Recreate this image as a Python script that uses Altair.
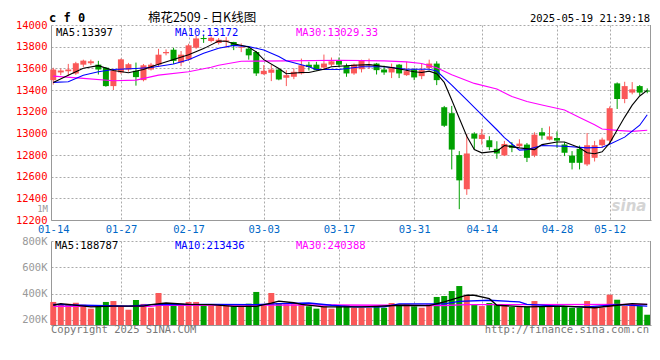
import altair as alt
import pandas as pd

# ---------------- data ----------------
DATES = ["01-14","01-15","01-16","01-17","01-20","01-21","01-22","01-23","01-24","01-27",
         "02-05","02-06","02-07","02-10","02-11","02-12","02-13","02-14","02-17","02-18",
         "02-19","02-20","02-21","02-24","02-25","02-26","02-27","02-28",
         "03-03","03-04","03-05","03-06","03-07","03-10","03-11","03-12","03-13","03-14",
         "03-17","03-18","03-19","03-20","03-21","03-24","03-25","03-26","03-27","03-28","03-31",
         "04-01","04-02","04-03","04-07","04-08","04-09","04-10","04-11","04-14","04-15",
         "04-16","04-17","04-18","04-21","04-22","04-23","04-24","04-25","04-28","04-29","04-30",
         "05-06","05-07","05-08","05-09","05-12","05-13","05-14","05-15","05-16","05-19"]

OPEN = [13491,13562,13574,13552,13634,13647,13634,13606,13436,13562,
        13589,13577,13491,13589,13634,13739,13772,13653,13681,13790,
        13880,13852,13834,13846,13843,13790,13782,13751,13546,13559,
        13589,13513,13522,13553,13634,13634,13607,13634,13674,13623,
        13553,13592,13628,13644,13589,13562,13634,13537,13589,13528,
        13604,13644,13241,13186,12799,12484,12997,12948,12936,12857,
        12796,12890,12881,12896,12795,13010,12942,12957,12896,12795,
        12857,12713,12774,12890,12933,13461,13317,13376,13436,13394]
HIGH = [13605,13598,13641,13660,13680,13680,13669,13610,13590,13690,
        13650,13653,13640,13650,13780,13775,13790,13760,13827,13900,
        13903,13895,13880,13888,13845,13830,13797,13760,13630,13630,
        13595,13582,13600,13690,13660,13660,13727,13700,13700,13644,
        13644,13680,13690,13650,13625,13644,13640,13660,13600,13640,
        13680,13665,13253,13253,12836,12994,13010,13040,12973,12927,
        12930,12920,12945,12911,13010,13050,13064,13018,12918,12836,
        12887,13003,12930,12960,13248,13470,13476,13473,13446,13415]
LOW = [13450,13537,13531,13540,13613,13630,13543,13430,13400,13550,
       13570,13440,13480,13580,13615,13720,13640,13620,13670,13780,
       13835,13840,13820,13790,13768,13750,13680,13530,13540,13482,
       13490,13436,13500,13543,13580,13580,13590,13620,13610,13522,
       13540,13562,13595,13543,13540,13510,13510,13530,13491,13500,
       13595,13445,13058,12667,12300,12432,12850,12896,12845,12765,
       12790,12826,12870,12735,12780,12942,12935,12866,12790,12667,
       12667,12698,12740,12865,12896,13225,13278,13360,13350,13370]
CLOSE = [13589,13580,13589,13647,13671,13665,13589,13436,13580,13683,
         13638,13519,13628,13634,13726,13751,13669,13726,13812,13876,
         13870,13882,13864,13858,13806,13797,13720,13553,13577,13589,
         13497,13537,13568,13628,13613,13583,13644,13665,13634,13553,
         13634,13674,13634,13583,13562,13613,13553,13574,13516,13583,
         13644,13491,13070,12850,12566,12814,12951,12988,12872,12814,
         12902,12866,12905,12774,12988,12979,12972,12933,12820,12728,
         12728,12890,12890,12942,13232,13317,13436,13406,13376,13385]
VOLUME = [337000,316000,324000,331000,316000,286000,304000,337000,344000,306000,
          278000,352000,322000,293000,405000,319000,329000,324000,337000,337000,
          309000,309000,309000,309000,304000,299000,324000,413000,312000,405000,
          329000,319000,319000,316000,304000,286000,304000,286000,304000,312000,
          293000,293000,293000,309000,293000,329000,312000,319000,304000,293000,
          319000,375000,382000,420000,458000,388000,319000,306000,329000,319000,
          312000,299000,299000,304000,344000,306000,304000,304000,304000,293000,
          293000,344000,304000,293000,392000,354000,306000,312000,306000,240000]

# moving-average lines (day index, value)
MA5_IDX = [0,2,4,6,8,10,12,13,14,16,18,20,22,23,24,26,27,28,30,31,33,34,36,37,40,42,45,48,49,50,
           51,52,53,54,55,56,57,59,60,62,64,65,67,68,70,71,72,73,74,75,76,77,78,79]
MA5_VAL = [13470,13537,13600,13625,13580,13559,13589,13614,13638,13681,13726,13782,13852,13850,13827,
           13797,13751,13680,13598,13550,13562,13562,13592,13614,13628,13634,13607,13568,13562,13574,
           13550,13470,13308,13140,12973,12850,12820,12836,12887,12866,12850,12896,12920,12920,12866,
           12820,12811,12829,12910,13030,13150,13260,13345,13397]
MA10_IDX = [0,2,4,6,8,11,13,16,18,20,22,24,26,28,30,31,34,35,38,41,44,47,50,51,53,55,57,59,60,62,
            63,65,68,71,73,74,76,78,79]
MA10_VAL = [13470,13476,13537,13568,13589,13598,13607,13640,13680,13740,13785,13812,13800,13770,13710,
            13670,13614,13589,13589,13614,13614,13592,13592,13575,13445,13308,13171,13033,12960,12845,
            12850,12887,12881,12866,12872,12900,12965,13075,13172]
MA30_IDX = [0,4,8,11,14,18,21,22,25,31,38,44,47,49,51,53,56,59,61,63,65,68,70,72,73,75,77,79]
MA30_VAL = [13528,13507,13486,13491,13537,13568,13610,13628,13665,13669,13674,13669,13660,13644,13605,
            13540,13461,13410,13340,13293,13262,13216,13147,13079,13040,13027,13018,13029]

VMA5_IDX = [0,1,5,8,12,13,15,18,21,24,27,29,30,32,33,36,41,43,46,50,52,55,56,58,59,63,68,72,75,77,79]
VMA5_VAL = [312000,324000,299000,306000,306000,316000,329000,319000,316000,304000,304000,329000,344000,
            331000,319000,299000,299000,304000,312000,309000,337000,388000,388000,362000,312000,299000,
            306000,293000,312000,324000,319000]
VMA10_IDX = [0,4,10,13,21,27,30,34,37,40,44,46,52,54,58,62,63,68,71,75,79]
VMA10_VAL = [319000,312000,306000,316000,319000,316000,324000,329000,312000,299000,299000,322000,322000,
             342000,350000,337000,319000,304000,299000,316000,306000]
VMA30_IDX = [0,13,14,37,52,55,79]
VMA30_VAL = [304000,304000,312000,314000,310000,316000,319000]

LABEL_IDX = [0, 9, 18, 28, 38, 48, 57, 67, 74]
PRICE_TICKS = list(range(12200, 14001, 200))
VOL_TICKS = [200000, 400000, 600000, 800000]

TITLE_CODE = "c f 0"
TITLE = "棉花2509 - 日K线图"
TIMESTAMP = "2025-05-19 21:39:18"
PRICE_MA_TEXT = ["MA5:13397", "MA10:13172", "MA30:13029.33"]
VOL_MA_TEXT = ["MA5:188787", "MA10:213436", "MA30:240388"]
UNIT_TEXT = "1M"
COPYRIGHT = "Copyright 2025 SINA.COM"
URL = "http://finance.sina.com.cn"
WATERMARK = "sina"

# ---------------- styling ----------------
MONO = "DejaVu Sans Mono"
RED = "#fa5858"
GREEN = "#00a000"
GRID = "#aaaaaa"
BORDER = "#999999"
W, H1, H2 = 600, 195, 84

df = pd.DataFrame({"i": range(len(DATES)), "date": DATES, "open": OPEN, "high": HIGH,
                   "low": LOW, "close": CLOSE, "vol": VOLUME})

def ma_frame(idx, val):
    return pd.DataFrame({"i": idx, "date": [DATES[k] for k in idx], "v": val})

label_expr = ("[" + ",".join("'%s'" % DATES[k] for k in LABEL_IDX) + "][indexof(["
              + ",".join(str(k) for k in LABEL_IDX) + "], datum.value)]")
grid_op = {"condition": {"test": "datum.value == 0", "value": 0}, "value": 1}
xscale = alt.Scale(domain=[-0.3, 79.5], nice=False, zero=False, padding=0)

x_price = alt.X("i:Q", scale=xscale, axis=alt.Axis(
    values=LABEL_IDX, labelExpr=label_expr, labelColor="#0068c8", labelFont=MONO,
    labelFontSize=10.5, labelFlush=False, labelOverlap=False, ticks=False, labelPadding=4,
    domainColor=BORDER, grid=True, gridColor=GRID, gridDash=[2, 2], gridOpacity=grid_op,
    title=None))
x_vol = alt.X("i:Q", scale=xscale, axis=alt.Axis(
    values=LABEL_IDX, labels=False, ticks=False, domainColor=BORDER, grid=True,
    gridColor=GRID, gridDash=[2, 2], gridOpacity=grid_op, title=None))

pscale = alt.Scale(domain=[12200, 14000], zero=False, nice=False, padding=0)
paxis = alt.Axis(values=PRICE_TICKS, format="d", labelColor="#ff0000", labelFont=MONO,
                 labelFontSize=10.5, ticks=False, labelPadding=4, domainColor=BORDER,
                 gridColor=GRID, gridDash=[2, 2], title=None)
def py(field):
    return alt.Y(field, scale=pscale, axis=paxis)

vscale = alt.Scale(domain=[162000, 800000], zero=False, nice=False, clamp=True, padding=0)
vaxis = alt.Axis(values=VOL_TICKS, labelExpr="datum.value/1000 + 'K'", labelColor="#999999",
                 labelFont=MONO, labelFontSize=10.5, ticks=False, labelPadding=4,
                 domainColor=BORDER, gridColor=GRID, gridDash=[2, 2], title=None)
def vy(field):
    return alt.Y(field, scale=vscale, axis=vaxis)

updown = alt.condition("datum.close >= datum.open", alt.value(RED), alt.value(GREEN))

def txt(text, x, y, color="#000000", size=10.5, align="left", font=MONO,
        weight="normal", style="normal"):
    return alt.Chart(alt.Data(values=[{}])).mark_text(
        text=text, align=align, baseline="alphabetic", font=font, fontSize=size,
        color=color, fontWeight=weight, fontStyle=style
    ).encode(x=alt.value(x), y=alt.value(y))

def right_border(h):
    return alt.Chart(alt.Data(values=[{}])).mark_rule(color=BORDER, strokeWidth=1).encode(
        x=alt.value(W - 0.5), y=alt.value(0), y2=alt.value(h))

base = alt.Chart(df)
wick = base.mark_rule(strokeWidth=1).encode(x=x_price, y=py("low:Q"), y2="high:Q", color=updown)
body = base.mark_bar(size=6).encode(x=x_price, y=py("open:Q"), y2="close:Q", color=updown)

def pline(idx, val, color):
    return alt.Chart(ma_frame(idx, val)).mark_line(color=color, strokeWidth=1.1).encode(
        x=x_price, y=py("v:Q"))

price = alt.layer(
    wick, body,
    pline(MA30_IDX, MA30_VAL, "#ff00ff"),
    pline(MA10_IDX, MA10_VAL, "#0000ff"),
    pline(MA5_IDX, MA5_VAL, "#000000"),
    txt(TITLE_CODE, -2, -3, size=12, weight="bold"),
    txt(TITLE, 151, -3, size=12.5, align="center", font="Noto Sans CJK SC"),
    txt(TIMESTAMP, 599, -3, align="right"),
    txt(PRICE_MA_TEXT[0], 5, 10.5),
    txt(PRICE_MA_TEXT[1], 124, 10.5, color="#0000ff"),
    txt(PRICE_MA_TEXT[2], 245, 10.5, color="#ff00ff"),
    txt(UNIT_TEXT, -3, 187, color="#999999", size=9, align="right"),
    txt(WATERMARK, 578, 186, color="#d4d4d4", size=15, align="center", font="DejaVu Sans",
        weight="bold", style="italic"),
    right_border(H1),
).properties(width=W, height=H1)

vbars = base.mark_bar(size=6).encode(x=x_vol, y=vy("vol:Q"), y2=alt.value(H2), color=updown)

def vline(idx, val, color):
    return alt.Chart(ma_frame(idx, val)).mark_line(color=color, strokeWidth=1.3).encode(
        x=x_vol, y=vy("v:Q"))

vol = alt.layer(
    vbars,
    vline(VMA30_IDX, VMA30_VAL, "#ff00ff"),
    vline(VMA10_IDX, VMA10_VAL, "#0000ff"),
    vline(VMA5_IDX, VMA5_VAL, "#000000"),
    txt(VOL_MA_TEXT[0], 4, 8),
    txt(VOL_MA_TEXT[1], 124, 8, color="#0000ff"),
    txt(VOL_MA_TEXT[2], 245, 8, color="#ff00ff"),
    txt(COPYRIGHT, 0, 92, color="#777777"),
    txt(URL, 598, 92, color="#777777", align="right"),
    right_border(H2),
).properties(width=W, height=H2)

chart = alt.vconcat(price, vol, spacing=21, bounds="flush").properties(
    padding={"left": 6, "top": 3, "right": 0, "bottom": 2}
).configure_view(stroke="transparent")

chart.save("out.html", embed_options={"renderer": "svg", "actions": False})
